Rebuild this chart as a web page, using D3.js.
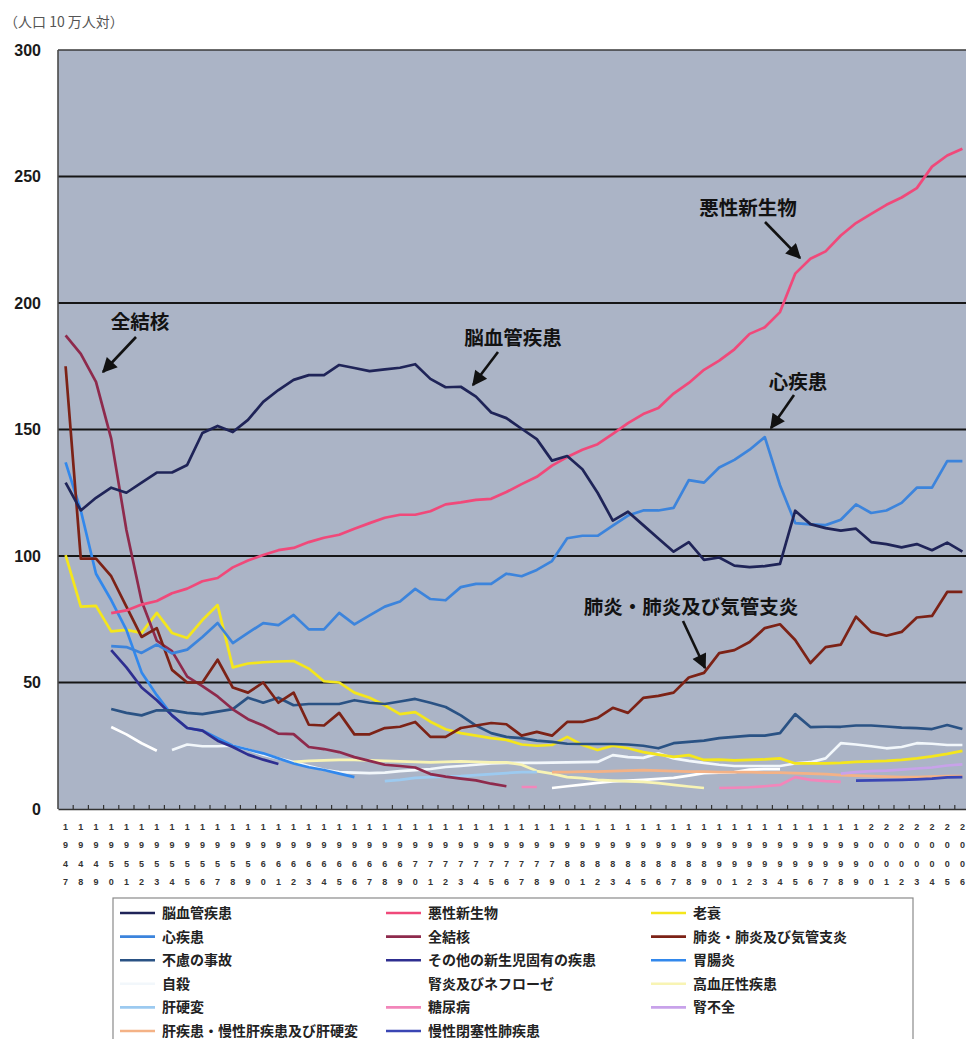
<!DOCTYPE html>
<html>
<head>
<meta charset="utf-8">
<script src="https://cdn.jsdelivr.net/npm/d3@7"></script>
<style>
  body { margin: 0; background: #fff; }
  svg { display: block; }
</style>
</head>
<body>
<svg id="chart" width="966" height="1039"></svg>
<script>
// ---- data: death rates per 100,000 population, by cause, 1947-2006 ----
const years = d3.range(1947, 2007);
const yTicks = [0, 50, 100, 150, 200, 250, 300];
const yUnitLabel = "（人口 10 万人対）";

// helper: values listed year by year starting at y0 -> [year, value] pairs
const fromYear = (y0, vals) => vals.map((v, i) => [y0 + i, v]);

const cerebrovascular = fromYear(1947, [
  129, 118, 123, 127, 125, 129, 133, 133, 136, 148.6,
  151.4, 149, 153.8, 160.9, 165.6, 169.6, 171.5, 171.5, 175.5, 174.3,
  173.1, 173.8, 174.4, 175.8, 170, 166.7, 166.9, 163, 156.7, 154.5,
  150.3, 146.2, 137.7, 139.5, 134.3, 125, 114, 117.5, 112.2, 106.9,
  101.7, 105.5, 98.5, 99.4, 96.2, 95.6, 96, 96.9, 117.9, 112.6,
  111, 110, 110.8, 105.5, 104.7, 103.4, 104.7, 102.3, 105.3, 101.7]);

const neoplasms = fromYear(1950, [
  77.4, 78.5, 80.8, 82.2, 85.3, 87.1, 90.0,
  91.3, 95.5, 98.2, 100.4, 102.3, 103.2, 105.5, 107.2, 108.4, 110.8,
  113.0, 115.1, 116.3, 116.3, 117.7, 120.4, 121.2, 122.2, 122.6, 125.3,
  128.4, 131.3, 135.7, 139.1, 142.0, 144.2, 148.3, 152.5, 156.1, 158.5,
  164.2, 168.4, 173.6, 177.2, 181.7, 187.8, 190.4, 196.4, 211.6, 217.5,
  220.4, 226.7, 231.6, 235.2, 238.8, 241.7, 245.4, 253.9, 258.3, 261.0]);

const senility = fromYear(1947, [
  100.3, 80, 80.3, 70.2, 70.8, 69.6, 77.5, 69.6, 67.6, 74.7,
  80.6, 56, 57.5, 58, 58.3, 58.5, 55.5, 50.5, 50, 46,
  44, 41, 37.5, 38.3, 34.5, 31.5, 30, 29, 28, 27.3,
  25.5, 25, 25.3, 28.5, 25.3, 23.3, 25, 24, 22.5, 21.5,
  20.6, 21.3, 19.4, 19.5, 19.2, 19.4, 19.6, 20, 18, 18,
  18, 18.2, 18.6, 18.8, 19, 19.4, 20, 20.8, 21.8, 23]);

const heart = fromYear(1950, [
  64.4, 64, 61.7, 65, 61.5, 63, 68,
  73.5, 65.6, 69.6, 73.5, 72.7, 76.7, 71, 71, 77.5, 73,
  76.5, 80, 82, 87, 83, 82.5, 87.7, 89, 89, 93,
  92, 94.5, 98, 107, 108, 108, 112, 116, 118, 118,
  119, 130, 129, 135, 138, 142, 147, 128, 113, 112.5,
  112.2, 114.3, 120.4, 117, 118, 121, 127, 127, 137.5, 137.5]);

const tuberculosis = fromYear(1947, [
  187.2, 179.9, 168.8, 146.4, 110.3, 82.2, 66.5, 62.4, 52.3, 48.6,
  44.5, 39.4, 35.5, 33, 29.8, 29.6, 24.5, 23.7, 22.5, 20.5,
  19, 17.5, 17, 16.4, 13.8, 12.8, 12, 11.3, 10, 9]);

const pneumonia = fromYear(1947, [
  175, 99, 99, 92, 80, 68, 71.5, 55, 50, 50,
  59, 48, 46, 50, 42, 46, 33.3, 33, 38, 29.5,
  29.5, 32, 32.5, 34.4, 28.5, 28.5, 32, 33, 34, 33.5,
  29, 30.5, 29, 34.4, 34.4, 36, 40, 38, 43.9, 44.7,
  46, 52, 53.8, 61.6, 62.8, 66, 71.5, 73, 66.8, 57.7,
  64, 65, 76, 70, 68.5, 70, 75.7, 76.3, 85.8, 85.8]);

const accidents = fromYear(1950, [
  39.5, 38, 37, 39, 39, 38, 37.5,
  38.5, 39.5, 44, 42, 44, 41, 41.5, 41.5, 41.5, 43,
  42, 41.5, 42.5, 43.5, 42, 40.3, 37, 33, 30, 28.5,
  28, 27, 26.5, 25.8, 25.7, 25.7, 25.7, 25.5, 25, 24,
  26, 26.5, 27, 28, 28.5, 29, 29, 30, 37.5, 32.4,
  32.5, 32.5, 33, 33, 32.6, 32.2, 32, 31.6, 33.2, 31.6]);

const newborn = fromYear(1950, [
  62.8, 56, 48, 43, 37, 32, 31, 27, 24.5, 21.5, 19.5, 17.8]);

const gastroenteritis = fromYear(1947, [
  137, 118, 93, 82.6, 70.8, 54, 45, 37, 32, 31,
  28, 25, 23.5, 22, 20, 18, 16.5, 15.4, 14, 12.6]);

const suicide = fromYear(1954, [
  23.3, 25.5, 24.8, 24.8, 25, 23.5, 21.5, 20, 18.6, 17,
  15.5, 14.6, 14.4, 14.2, 14.4, 15, 15.4, 15.8, 16.6, 17,
  17.5, 18, 18.2, 18.2, 18.2, 18.3, 18.4, 18.5, 18.6, 21.3,
  20.5, 20.2, 22, 20, 19, 18.2, 17.5, 17, 17, 17,
  17, 18, 18.5, 20, 26, 25.5, 24.8, 24, 24.5, 26,
  25.8, 25.3, 25.3]);

const nephritis = [
  ...fromYear(1950, [32.4, 29.5, 26, 23]),
  ...fromYear(1979, [8.3, 9, 9.6, 10.3, 10.9, 11.2, 11.5, 11.9, 12.3, 13.2,
                     14.2, 14.4, 14.6, 15.6, 15.8, 15.8])];

const hypertension = fromYear(1962, [
  18.6, 19, 19.2, 19.4, 19.4, 19.2, 19, 18.8, 18.6, 18.4,
  18.6, 18.8, 18.6, 18.4, 18.4, 17.5, 15, 14, 12.6, 12.2,
  11.5, 11.2, 10.9, 10.7, 10.2, 9.5, 8.9, 8.3]);

const cirrhosis = fromYear(1968, [
  11, 11.5, 12.3, 12.6, 12.8, 13, 13.4, 13.8, 14.2, 14.6, 14.6]);

const diabetes = [
  ...fromYear(1977, [8.7, 8.7]),
  ...fromYear(1990, [8.3, 8.4, 8.6, 9, 9.5, 12.6, 11.5, 11, 10.7])];

const renalFailure = fromYear(1998, [14, 14.6, 15, 15.2, 15.6, 16, 16.4, 17.2, 17.6]);

const liverDisease = fromYear(1979, [
  14.6, 14.6, 14.8, 14.8, 15, 15.2, 15.4, 15.2, 15, 14.8,
  14.8, 14.6, 14.6, 14.6, 14.4, 14.4, 14.2, 14, 13.8, 13.4,
  13.2, 13, 12.8, 12.6, 12.6, 12.8, 13, 13]);

const copd = fromYear(1999, [11.2, 11.3, 11.4, 11.5, 11.7, 12, 12.5, 12.6]);

// legend order (row by row, three columns)
const seriesNames = [
  "脳血管疾患", "悪性新生物", "老衰",
  "心疾患", "全結核", "肺炎・肺炎及び気管支炎",
  "不慮の事故", "その他の新生児固有の疾患", "胃腸炎",
  "自殺", "腎炎及びネフローゼ", "高血圧性疾患",
  "肝硬変", "糖尿病", "腎不全",
  "肝疾患・慢性肝疾患及び肝硬変", "慢性閉塞性肺疾患"];
const seriesData = [
  cerebrovascular, neoplasms, senility,
  heart, tuberculosis, pneumonia,
  accidents, newborn, gastroenteritis,
  suicide, nephritis, hypertension,
  cirrhosis, diabetes, renalFailure,
  liverDisease, copd];
const seriesColors = [
  "#1f2458", "#f0497a", "#f4e61c",
  "#3c84dc", "#8e2a4c", "#7c2216",
  "#2a5284", "#2e2e90", "#3288ec",
  "#f2f7fb", "#ffffff", "#f8f4b4",
  "#9ccaf0", "#f286ba", "#c8a2ea",
  "#f4b286", "#3a46b4"];

// annotations: label, label centre, arrow start, arrow tip
const callouts = [
  { text: "悪性新生物", lx: 748, ly: 208, x1: 765, y1: 222, x2: 800, y2: 258 },
  { text: "全結核", lx: 140, ly: 322, x1: 136, y1: 337, x2: 103, y2: 372 },
  { text: "脳血管疾患", lx: 513, ly: 338, x1: 498, y1: 352, x2: 473, y2: 385 },
  { text: "心疾患", lx: 798, ly: 382, x1: 794, y1: 395, x2: 771, y2: 428 },
  { text: "肺炎・肺炎及び気管支炎", lx: 691, ly: 607, x1: 683, y1: 621, x2: 705, y2: 668 }
];

// ---- layout ----
const svg = d3.select("#chart");
const plotLeft = 58, plotTop = 50, plotBottom = 809, band = 15.2;
const plotRight = plotLeft + years.length * band;

const x = d3.scaleBand().domain(years).range([plotLeft, plotRight]);
const y = d3.scaleLinear().domain([0, 300]).range([plotBottom, plotTop]);
const color = d3.scaleOrdinal().domain(seriesNames).range(seriesColors);

const cjk = "'Noto Sans CJK JP', 'Noto Sans', sans-serif";
const latin = "'Liberation Sans', Arial, sans-serif";

// unit caption
svg.append("text")
  .attr("x", 4).attr("y", 27)
  .attr("font-family", cjk).attr("font-size", 14)
  .attr("fill", "#555")
  .text(yUnitLabel);

// plot background
svg.append("rect")
  .attr("x", plotLeft).attr("y", plotTop)
  .attr("width", plotRight - plotLeft).attr("height", plotBottom - plotTop)
  .attr("fill", "#abb4c6");

// horizontal grid lines
svg.append("g").selectAll("line")
  .data(yTicks.filter(t => t > 0 && t < 300))
  .join("line")
  .attr("x1", plotLeft).attr("x2", plotRight)
  .attr("y1", d => y(d)).attr("y2", d => y(d))
  .attr("stroke", "#161616").attr("stroke-width", 2.2);

// frame: top, left
svg.append("line").attr("x1", plotLeft).attr("x2", plotRight)
  .attr("y1", y(300)).attr("y2", y(300)).attr("stroke", "#3a3a3a").attr("stroke-width", 1.6);
svg.append("line").attr("x1", plotLeft).attr("x2", plotLeft)
  .attr("y1", y(300)).attr("y2", y(0)).attr("stroke", "#4a4a4a").attr("stroke-width", 1.6);

// y labels
svg.append("g").selectAll("text")
  .data(yTicks)
  .join("text")
  .attr("x", 41).attr("y", d => y(d))
  .attr("dy", "0.36em")
  .attr("text-anchor", "end")
  .attr("font-family", latin).attr("font-weight", "bold").attr("font-size", 16)
  .attr("fill", "#1a1a1a")
  .text(d => d);

// x axis: baseline + band boundary ticks + stacked year digits
const xAxis = svg.append("g")
  .attr("transform", `translate(0,${plotBottom})`)
  .call(d3.axisBottom(x).tickSize(0).tickFormat(""));
xAxis.select(".domain").attr("stroke", "#333").attr("stroke-width", 1.6);

svg.append("g").selectAll("line")
  .data(years.slice(1))
  .join("line")
  .attr("x1", d => x(d)).attr("x2", d => x(d))
  .attr("y1", plotBottom).attr("y2", plotBottom - 4)
  .attr("stroke", "#333").attr("stroke-width", 1.2);

const digitRows = [827, 845, 864, 882];
const yearLabels = svg.append("g")
  .attr("font-family", latin).attr("font-weight", "bold")
  .attr("font-size", 9).attr("fill", "#333")
  .attr("text-anchor", "middle");
years.forEach(yr => {
  const cx = x(yr) + x.bandwidth() / 2;
  String(yr).split("").forEach((ch, i) => {
    yearLabels.append("text")
      .attr("x", cx).attr("y", digitRows[i])
      .attr("dy", "0.35em")
      .text(ch);
  });
});

// series lines
svg.append("clipPath").attr("id", "plotClip")
  .append("rect").attr("x", plotLeft).attr("y", plotTop)
  .attr("width", plotRight - plotLeft).attr("height", plotBottom - plotTop);

const line = d3.line()
  .defined(d => d.v != null)
  .x(d => x(d.year) + x.bandwidth() / 2)
  .y(d => y(d.v))
  .curve(d3.curveLinear);

const series = seriesNames.map((name, i) => {
  const m = new Map(seriesData[i]);
  return { name, values: years.map(yr => ({ year: yr, v: m.has(yr) ? m.get(yr) : null })) };
});

// draw light series first, dark ones on top
const drawOrder = [
  "腎炎及びネフローゼ", "自殺", "高血圧性疾患", "肝硬変", "肝疾患・慢性肝疾患及び肝硬変",
  "糖尿病", "腎不全", "慢性閉塞性肺疾患", "老衰", "胃腸炎", "その他の新生児固有の疾患",
  "不慮の事故", "全結核", "肺炎・肺炎及び気管支炎", "心疾患", "悪性新生物", "脳血管疾患"];

svg.append("g").attr("clip-path", "url(#plotClip)")
  .selectAll("path")
  .data(drawOrder.map(n => series.find(s => s.name === n)))
  .join("path")
  .attr("fill", "none")
  .attr("stroke", d => color(d.name))
  .attr("stroke-width", 2.7)
  .attr("stroke-linejoin", "round")
  .attr("stroke-linecap", "butt")
  .attr("d", d => line(d.values));

// callouts
svg.append("defs").append("marker")
  .attr("id", "arrowHead")
  .attr("viewBox", "0 0 10 10")
  .attr("refX", 9).attr("refY", 5)
  .attr("markerUnits", "userSpaceOnUse")
  .attr("markerWidth", 18).attr("markerHeight", 15)
  .attr("orient", "auto")
  .append("path").attr("d", "M0,0 L10,5 L0,10 Z").attr("fill", "#111");

const notes = svg.append("g");
callouts.forEach(c => {
  notes.append("line")
    .attr("x1", c.x1).attr("y1", c.y1).attr("x2", c.x2).attr("y2", c.y2)
    .attr("stroke", "#111").attr("stroke-width", 2.6)
    .attr("marker-end", "url(#arrowHead)");
  notes.append("text")
    .attr("x", c.lx).attr("y", c.ly).attr("dy", "0.36em")
    .attr("text-anchor", "middle")
    .attr("font-family", cjk).attr("font-weight", "bold").attr("font-size", 19.5)
    .attr("fill", "#121212")
    .text(c.text);
});

// legend
const legendBox = { x: 113, y: 898, w: 800, h: 160 };
svg.append("rect")
  .attr("x", legendBox.x).attr("y", legendBox.y)
  .attr("width", legendBox.w).attr("height", legendBox.h)
  .attr("fill", "#fff").attr("stroke", "#8a8a8a").attr("stroke-width", 1.2);

const colX = [120, 386, 651];
const rowY0 = 913, rowGap = 23.6;
const legend = svg.append("g").selectAll("g")
  .data(seriesNames)
  .join("g")
  .attr("transform", (d, i) => `translate(${colX[i % 3]},${rowY0 + Math.floor(i / 3) * rowGap})`);
legend.append("line")
  .attr("x1", 0).attr("x2", 35).attr("y1", 0).attr("y2", 0)
  .attr("stroke", d => color(d)).attr("stroke-width", 2.6);
legend.append("text")
  .attr("x", 42).attr("y", 0).attr("dy", "0.36em")
  .attr("font-family", cjk).attr("font-weight", "bold").attr("font-size", 14)
  .attr("fill", "#222")
  .text(d => d);
</script>
</body>
</html>
